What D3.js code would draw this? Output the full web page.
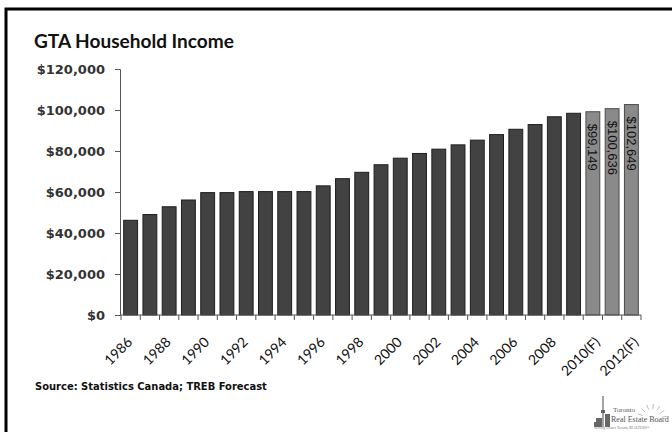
<!DOCTYPE html>
<html><head><meta charset="utf-8">
<script src="https://cdn.jsdelivr.net/npm/d3@7"></script>
<style>body{margin:0;background:#fff}svg{display:block}</style>
</head><body>
<svg id="c" width="672" height="432"></svg>
<script>
const categories = ["1986","1987","1988","1989","1990","1991","1992","1993","1994","1995","1996","1997","1998","1999","2000","2001","2002","2003","2004","2005","2006","2007","2008","2009","2010(F)","2011(F)","2012(F)"];
const incomes = [46200,49000,52800,56100,59700,59700,60200,60200,60200,60200,63000,66500,69600,73300,76500,78800,80900,83000,85300,88000,90600,92900,96700,98400,99149,100636,102649];
const forecast = [false,false,false,false,false,false,false,false,false,false,false,false,false,false,false,false,false,false,false,false,false,false,false,false,true,true,true];
const shownLabels = ["1986","1988","1990","1992","1994","1996","1998","2000","2002","2004","2006","2008","2010(F)","2012(F)"];
const yTicks = [0,20000,40000,60000,80000,100000,120000];
const title = "GTA Household Income";
const source = "Source: Statistics Canada; TREB Forecast";

const svg = d3.select("#c");

// frame
svg.append("path").attr("d","M6,432 V9 H672").attr("fill","none").attr("stroke","#000").attr("stroke-width",3);

const x = d3.scaleBand().domain(categories).range([121,641]).paddingInner(0.28).paddingOuter(0.14);
const y = d3.scaleLinear().domain([0,120000]).range([315,69]);

// title
svg.append("text").attr("x",34).attr("y",48).text(title)
  .attr("font-family","Lato, 'Open Sans', sans-serif").attr("font-weight","bold")
  .attr("font-size",18).attr("fill","#111")
  .each(function(){ const w=this.getComputedTextLength(); d3.select(this).attr("font-size",18*200/w); });

// y axis
const yAxis = svg.append("g").attr("transform","translate(120,0)")
  .call(d3.axisLeft(y).tickValues(yTicks).tickSize(5).tickPadding(10).tickFormat(d=>"$"+d3.format(",")(d)));
yAxis.select(".domain").attr("stroke","#555");
yAxis.selectAll(".tick line").attr("stroke","#555");
yAxis.selectAll(".tick text").attr("font-family","'DejaVu Sans', Verdana, sans-serif")
  .attr("font-weight","bold").attr("font-size",13).attr("fill","#333");

// bars
svg.append("g").selectAll("rect").data(categories).join("rect")
  .attr("x",d=>x(d)).attr("width",x.bandwidth())
  .attr("y",(d,i)=>y(incomes[i])).attr("height",(d,i)=>y(0)-y(incomes[i]))
  .attr("fill",(d,i)=>forecast[i]?"#8a8a8a":"#424242")
  .attr("stroke",(d,i)=>forecast[i]?"#4a4a4a":"#1e1e1e").attr("stroke-width",1);

// value labels on forecast bars
svg.append("g").selectAll("text").data(categories.filter((d,i)=>forecast[i])).join("text")
  .attr("transform",d=>{const i=categories.indexOf(d);return `translate(${x(d)+x.bandwidth()/2},${y(incomes[i])+12}) rotate(90)`;})
  .attr("dy","0.35em").attr("font-family","'Liberation Sans', Arial, sans-serif").attr("font-size",13).attr("fill","#111")
  .text(d=>"$"+d3.format(",")(incomes[categories.indexOf(d)]));

// x axis
const xg = svg.append("g");
xg.append("line").attr("x1",x.range()[0]).attr("x2",x.range()[1]).attr("y1",y(0)).attr("y2",y(0)).attr("stroke","#555");
xg.selectAll("line.t").data(d3.range(categories.length+1)).join("line").attr("class","t")
  .attr("x1",i=>x.range()[0]+i*x.step()).attr("x2",i=>x.range()[0]+i*x.step())
  .attr("y1",y(0)).attr("y2",y(0)+5).attr("stroke","#555");
xg.selectAll("text").data(shownLabels).join("text")
  .attr("font-family","Lato, 'Open Sans', sans-serif").attr("font-size",14).attr("fill","#111")
  .attr("text-anchor","end").text(d=>d)
  .each(function(d){
    const w=this.getComputedTextLength();
    const cx=x(d)+x.bandwidth()/2 + 2.5 + 0.35*Math.max(0,w-32);
    d3.select(this).attr("transform",`translate(${cx},${y(0)+28}) rotate(-45)`);
  });

// source
svg.append("text").attr("x",35).attr("y",390).text(source)
  .attr("font-family","'DejaVu Sans Condensed','DejaVu Sans', sans-serif").attr("font-weight","bold")
  .attr("font-size",11).attr("fill","#111")
  .each(function(){ const w=this.getComputedTextLength(); d3.select(this).attr("font-size",11*232/w); });

// logo
const lg = svg.append("g").attr("fill","#666").attr("stroke","#666");
lg.append("line").attr("x1",603).attr("x2",603).attr("y1",396).attr("y2",427).attr("stroke-width",1.2);
lg.append("rect").attr("x",601).attr("y",410).attr("width",4).attr("height",3).attr("stroke","none");
lg.append("rect").attr("x",596).attr("y",418).attr("width",6).attr("height",9).attr("stroke","none");
lg.append("rect").attr("x",605).attr("y",414).attr("width",5).attr("height",13).attr("stroke","none");
lg.append("rect").attr("x",594).attr("y",422).attr("width",3).attr("height",5).attr("stroke","none");
const rays = lg.append("g").attr("stroke","#bbb").attr("stroke-width",1);
[-160,-135,-110,-85,-60,-35,-10].forEach(a=>{
  const r=a*Math.PI/180;
  rays.append("line").attr("x1",652+10*Math.cos(r)).attr("y1",419+10*Math.sin(r))
    .attr("x2",652+15*Math.cos(r)).attr("y2",419+15*Math.sin(r));
});
svg.append("text").attr("x",613).attr("y",412).text("Toronto")
  .attr("font-family","'Liberation Serif', serif").attr("font-size",7).attr("fill","#555");
svg.append("text").attr("x",611).attr("y",422).text("Real Estate Board")
  .attr("font-family","'Liberation Serif', serif").attr("font-size",8).attr("fill","#555");
svg.append("text").attr("x",594).attr("y",429).text("Serving Greater Toronto REALTORS®")
  .attr("font-family","'Liberation Serif', serif").attr("font-size",3.5).attr("fill","#777");
</script>
</body></html>
